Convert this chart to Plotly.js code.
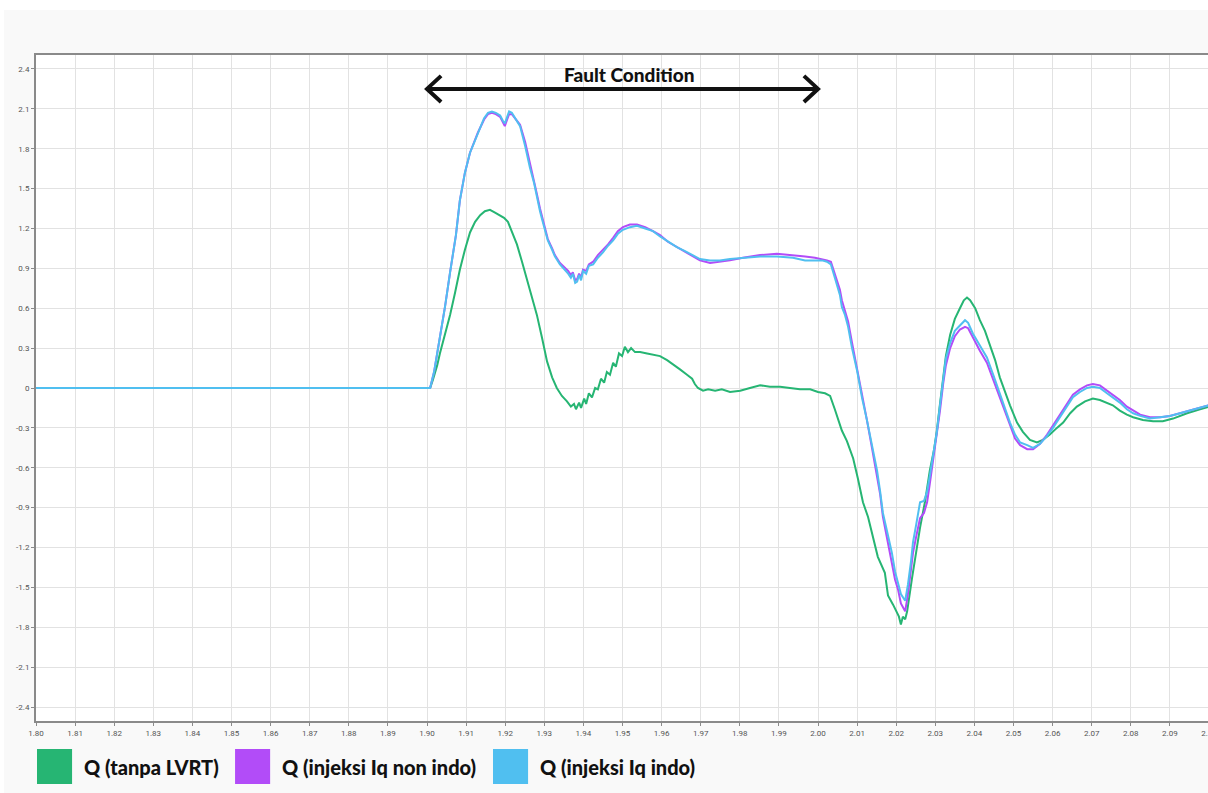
<!DOCTYPE html>
<html>
<head>
<meta charset="utf-8">
<script src="https://cdn.plot.ly/plotly-3.0.1.min.js"></script>
<style>
  html, body { margin: 0; padding: 0; background: #ffffff; overflow: hidden; width: 1208px; height: 793px; }
  #chart { position: absolute; left: 4px; top: 10px; width: 1208px; height: 783px; }
</style>
</head>
<body>
<div id="chart"></div>
<script>
// ---------- data ----------
const seriesNames = ["Q (tanpa LVRT)", "Q (injeksi Iq non indo)", "Q (injeksi Iq indo)"];
const seriesColors = ["#26b573", "#b24cf8", "#50bff0"];

const tGreen = [1.8000, 1.9000, 1.9008, 1.9015, 1.9026, 1.9033, 1.9046, 1.9059, 1.9072, 1.9084, 1.9097, 1.9110, 1.9123, 1.9136, 1.9148, 1.9161, 1.9174, 1.9187, 1.9197, 1.9207, 1.9217, 1.9230, 1.9243, 1.9256, 1.9269, 1.9281, 1.9294, 1.9307, 1.9320, 1.9332, 1.9345, 1.9358, 1.9368, 1.9376, 1.9381, 1.9389, 1.9394, 1.9402, 1.9407, 1.9414, 1.9422, 1.9430, 1.9437, 1.9445, 1.9453, 1.9460, 1.9468, 1.9476, 1.9483, 1.9491, 1.9499, 1.9506, 1.9514, 1.9522, 1.9532, 1.9545, 1.9563, 1.9583, 1.9596, 1.9614, 1.9629, 1.9647, 1.9665, 1.9678, 1.9685, 1.9693, 1.9706, 1.9719, 1.9737, 1.9754, 1.9775, 1.9801, 1.9826, 1.9852, 1.9877, 1.9903, 1.9928, 1.9954, 1.9980, 2.0000, 2.0018, 2.0031, 2.0043, 2.0061, 2.0074, 2.0090, 2.0102, 2.0115, 2.0128, 2.0138, 2.0153, 2.0171, 2.0179, 2.0192, 2.0200, 2.0207, 2.0212, 2.0217, 2.0223, 2.0228, 2.0240, 2.0251, 2.0261, 2.0274, 2.0286, 2.0297, 2.0304, 2.0312, 2.0320, 2.0327, 2.0338, 2.0350, 2.0363, 2.0373, 2.0381, 2.0389, 2.0402, 2.0414, 2.0427, 2.0440, 2.0453, 2.0465, 2.0478, 2.0491, 2.0509, 2.0524, 2.0542, 2.0560, 2.0575, 2.0593, 2.0611, 2.0627, 2.0645, 2.0662, 2.0683, 2.0703, 2.0721, 2.0739, 2.0754, 2.0772, 2.0790, 2.0806, 2.0831, 2.0857, 2.0882, 2.0908, 2.0944, 2.0977, 2.1000];
const qGreen = [0, 0, 0, 0.06, 0.17, 0.26, 0.40, 0.55, 0.72, 0.89, 1.04, 1.17, 1.25, 1.30, 1.33, 1.34, 1.32, 1.30, 1.28, 1.25, 1.18, 1.08, 0.95, 0.81, 0.68, 0.55, 0.38, 0.20, 0.08, 0.00, -0.06, -0.10, -0.14, -0.12, -0.16, -0.11, -0.15, -0.08, -0.12, -0.04, -0.07, 0.00, -0.01, 0.07, 0.04, 0.12, 0.10, 0.19, 0.16, 0.26, 0.24, 0.31, 0.27, 0.30, 0.27, 0.27, 0.26, 0.25, 0.24, 0.21, 0.18, 0.14, 0.10, 0.07, 0.03, 0.00, -0.02, -0.01, -0.02, -0.01, -0.03, -0.02, 0.00, 0.02, 0.01, 0.01, 0.00, -0.01, -0.01, -0.03, -0.04, -0.06, -0.16, -0.32, -0.40, -0.53, -0.68, -0.86, -0.97, -1.10, -1.27, -1.39, -1.56, -1.63, -1.68, -1.72, -1.78, -1.72, -1.74, -1.68, -1.44, -1.22, -1.05, -0.85, -0.62, -0.46, -0.32, -0.12, 0.08, 0.24, 0.40, 0.52, 0.60, 0.66, 0.68, 0.66, 0.60, 0.51, 0.43, 0.32, 0.21, 0.08, -0.03, -0.13, -0.26, -0.33, -0.39, -0.41, -0.39, -0.35, -0.30, -0.26, -0.19, -0.14, -0.10, -0.08, -0.09, -0.11, -0.13, -0.17, -0.20, -0.22, -0.24, -0.25, -0.25, -0.23, -0.19, -0.16, -0.14];

const tIq = [1.8000, 1.9000, 1.9008, 1.9018, 1.9028, 1.9046, 1.9059, 1.9074, 1.9084, 1.9097, 1.9110, 1.9130, 1.9146, 1.9156, 1.9166, 1.9176, 1.9187, 1.9194, 1.9199, 1.9205, 1.9210, 1.9217, 1.9228, 1.9238, 1.9251, 1.9263, 1.9274, 1.9281, 1.9289, 1.9297, 1.9309, 1.9320, 1.9327, 1.9340, 1.9353, 1.9361, 1.9368, 1.9373, 1.9379, 1.9384, 1.9389, 1.9394, 1.9399, 1.9407, 1.9414, 1.9425, 1.9437, 1.9450, 1.9463, 1.9476, 1.9488, 1.9501, 1.9519, 1.9537, 1.9558, 1.9578, 1.9596, 1.9616, 1.9639, 1.9660, 1.9680, 1.9698, 1.9724, 1.9749, 1.9775, 1.9808, 1.9852, 1.9895, 1.9936, 1.9967, 1.9992, 2.0010, 2.0023, 2.0033, 2.0041, 2.0049, 2.0056, 2.0061, 2.0069, 2.0077, 2.0087, 2.0100, 2.0113, 2.0125, 2.0138, 2.0151, 2.0159, 2.0166, 2.0176, 2.0184, 2.0189, 2.0197, 2.0205, 2.0212, 2.0223, 2.0230, 2.0238, 2.0243, 2.0251, 2.0256, 2.0261, 2.0271, 2.0279, 2.0286, 2.0294, 2.0304, 2.0312, 2.0320, 2.0327, 2.0338, 2.0350, 2.0363, 2.0376, 2.0384, 2.0396, 2.0414, 2.0432, 2.0448, 2.0465, 2.0478, 2.0491, 2.0504, 2.0517, 2.0535, 2.0550, 2.0568, 2.0586, 2.0601, 2.0619, 2.0637, 2.0652, 2.0670, 2.0688, 2.0703, 2.0721, 2.0739, 2.0754, 2.0772, 2.0790, 2.0806, 2.0824, 2.0849, 2.0875, 2.0900, 2.0926, 2.0951, 2.0977, 2.1000];
const qIqNonIndo = [0, 0, 0, 0.12, 0.29, 0.61, 0.87, 1.15, 1.41, 1.62, 1.77, 1.92, 2.02, 2.06, 2.07, 2.06, 2.04, 2.00, 1.97, 2.02, 2.06, 2.06, 2.02, 1.98, 1.85, 1.70, 1.57, 1.46, 1.35, 1.25, 1.12, 1.05, 1.00, 0.94, 0.90, 0.88, 0.85, 0.87, 0.81, 0.82, 0.86, 0.83, 0.89, 0.88, 0.93, 0.95, 1.00, 1.04, 1.08, 1.13, 1.18, 1.21, 1.23, 1.23, 1.21, 1.18, 1.15, 1.10, 1.06, 1.02, 0.99, 0.96, 0.94, 0.95, 0.96, 0.98, 1.00, 1.01, 1.00, 0.99, 0.98, 0.97, 0.96, 0.95, 0.88, 0.80, 0.74, 0.66, 0.58, 0.50, 0.34, 0.15, -0.06, -0.24, -0.45, -0.65, -0.80, -0.97, -1.12, -1.22, -1.30, -1.44, -1.52, -1.62, -1.68, -1.55, -1.36, -1.24, -1.12, -1.04, -0.98, -0.94, -0.86, -0.72, -0.56, -0.36, -0.17, 0.03, 0.17, 0.30, 0.39, 0.44, 0.46, 0.45, 0.38, 0.28, 0.19, 0.06, -0.07, -0.18, -0.29, -0.38, -0.43, -0.46, -0.46, -0.42, -0.35, -0.28, -0.20, -0.11, -0.05, -0.01, 0.02, 0.03, 0.02, -0.02, -0.05, -0.09, -0.14, -0.17, -0.20, -0.22, -0.22, -0.21, -0.19, -0.17, -0.15, -0.13];
const qIqIndo = [0, 0, 0, 0.12, 0.29, 0.61, 0.87, 1.15, 1.41, 1.62, 1.77, 1.92, 2.03, 2.07, 2.08, 2.07, 2.05, 2.01, 1.99, 2.04, 2.08, 2.07, 2.02, 1.97, 1.82, 1.66, 1.54, 1.44, 1.33, 1.24, 1.11, 1.04, 0.99, 0.93, 0.89, 0.86, 0.83, 0.86, 0.79, 0.80, 0.85, 0.81, 0.88, 0.86, 0.92, 0.93, 0.98, 1.02, 1.07, 1.11, 1.16, 1.19, 1.21, 1.22, 1.20, 1.18, 1.14, 1.10, 1.06, 1.03, 1.00, 0.97, 0.96, 0.96, 0.97, 0.98, 0.99, 0.99, 0.98, 0.96, 0.96, 0.96, 0.95, 0.93, 0.85, 0.77, 0.70, 0.61, 0.55, 0.46, 0.30, 0.13, -0.08, -0.24, -0.43, -0.62, -0.78, -0.94, -1.07, -1.17, -1.24, -1.38, -1.47, -1.55, -1.60, -1.48, -1.30, -1.16, -1.03, -0.94, -0.86, -0.85, -0.78, -0.66, -0.52, -0.33, -0.13, 0.07, 0.22, 0.34, 0.43, 0.47, 0.51, 0.49, 0.41, 0.32, 0.23, 0.10, -0.04, -0.15, -0.26, -0.35, -0.41, -0.43, -0.45, -0.42, -0.36, -0.30, -0.22, -0.13, -0.07, -0.03, 0.00, 0.01, 0.00, -0.04, -0.07, -0.11, -0.16, -0.19, -0.21, -0.23, -0.22, -0.21, -0.19, -0.17, -0.15, -0.13];

const xTickVals = [1.80, 1.81, 1.82, 1.83, 1.84, 1.85, 1.86, 1.87, 1.88, 1.89, 1.90, 1.91, 1.92, 1.93, 1.94, 1.95, 1.96, 1.97, 1.98, 1.99, 2.00, 2.01, 2.02, 2.03, 2.04, 2.05, 2.06, 2.07, 2.08, 2.09, 2.10];
const xTickText = ["1.80", "1.81", "1.82", "1.83", "1.84", "1.85", "1.86", "1.87", "1.88", "1.89", "1.90", "1.91", "1.92", "1.93", "1.94", "1.95", "1.96", "1.97", "1.98", "1.99", "2.00", "2.01", "2.02", "2.03", "2.04", "2.05", "2.06", "2.07", "2.08", "2.09", "2.10"];
const yTickVals = [2.4, 2.1, 1.8, 1.5, 1.2, 0.9, 0.6, 0.3, 0, -0.3, -0.6, -0.9, -1.2, -1.5, -1.8, -2.1, -2.4];
const yTickText = ["2.4", "2.1", "1.8", "1.5", "1.2", "0.9", "0.6", "0.3", "0", "-0.3", "-0.6", "-0.9", "-1.2", "-1.5", "-1.8", "-2.1", "-2.4"];

const faultLabel = "Fault Condition";
const faultStart = 1.90, faultEnd = 2.00, faultLevel = 2.25;

// ---------- traces ----------
const traces = [
  { x: tGreen, y: qGreen, name: seriesNames[0], mode: "lines", line: { color: seriesColors[0], width: 2 } },
  { x: tIq, y: qIqNonIndo, name: seriesNames[1], mode: "lines", line: { color: seriesColors[1], width: 2 } },
  { x: tIq, y: qIqIndo, name: seriesNames[2], mode: "lines", line: { color: seriesColors[2], width: 2 } }
];

// ---------- layout helpers (legend drawn as shapes + text) ----------
const legendX = [0.00085, 0.1697, 0.3896];
const swatchW = 0.0299;
const shapes = [
  { type: "line", xref: "x", yref: "y", x0: faultStart, x1: faultEnd, y0: faultLevel, y1: faultLevel,
    line: { color: "#111111", width: 4 } },
  { type: "path", xref: "x", yref: "y",
    path: `M ${faultStart + 0.0036} ${faultLevel + 0.098} L ${faultStart} ${faultLevel} L ${faultStart + 0.0036} ${faultLevel - 0.098}`,
    line: { color: "#111111", width: 4 } },
  { type: "path", xref: "x", yref: "y",
    path: `M ${faultEnd - 0.0036} ${faultLevel + 0.098} L ${faultEnd} ${faultLevel} L ${faultEnd - 0.0036} ${faultLevel - 0.098}`,
    line: { color: "#111111", width: 4 } }
];
const annotations = [
  { xref: "x", yref: "y", x: 1.9519, y: 2.355, text: faultLabel, showarrow: false,
    font: { family: "Lato, 'Open Sans', sans-serif", size: 19, weight: 900, color: "#111111" } }
];
seriesNames.forEach((nm, i) => {
  shapes.push({ type: "rect", xref: "paper", yref: "paper", x0: legendX[i], x1: legendX[i] + swatchW,
    y0: -0.0946, y1: -0.0420, fillcolor: seriesColors[i], line: { width: 0 } });
  annotations.push({ xref: "paper", yref: "paper", x: legendX[i] + swatchW + 0.0085, y: -0.0691,
    xanchor: "left", yanchor: "middle", text: nm, showarrow: false,
    font: { family: "Lato, 'Open Sans', sans-serif", size: 20, weight: 900, color: "#111111" } });
});

const layout = {
  width: 1208, height: 783,
  margin: { l: 32, r: 3, t: 45, b: 72, pad: 0 },
  paper_bgcolor: "#f9f9f9",
  plot_bgcolor: "#ffffff",
  showlegend: false,
  xaxis: {
    range: [1.80, 2.10], tickmode: "array", tickvals: xTickVals, ticktext: xTickText,
    showgrid: true, gridcolor: "#e2e2e2", gridwidth: 1, zeroline: false,
    showline: true, linecolor: "#8a8a8a", linewidth: 2, mirror: true,
    ticks: "outside", ticklen: 3, tickcolor: "#8a8a8a", ticklabeloverflow: "allow",
    tickfont: { family: "Roboto, Arial, sans-serif", size: 8, color: "#555555" }
  },
  yaxis: {
    range: [-2.505, 2.505], tickmode: "array", tickvals: yTickVals, ticktext: yTickText,
    showgrid: true, gridcolor: "#e2e2e2", gridwidth: 1, zeroline: false,
    showline: true, linecolor: "#8a8a8a", linewidth: 2,
    ticks: "outside", ticklen: 3, tickcolor: "#8a8a8a",
    tickfont: { family: "Roboto, Arial, sans-serif", size: 8, color: "#555555" }
  },
  shapes: shapes,
  annotations: annotations
};

Plotly.newPlot("chart", traces, layout, { displayModeBar: false, staticPlot: true });
</script>
</body>
</html>
